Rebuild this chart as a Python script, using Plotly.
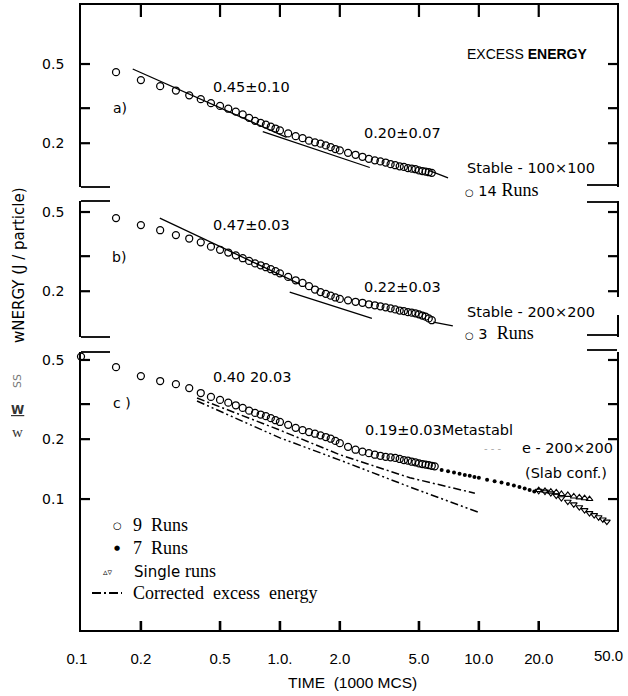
import math
import plotly.graph_objects as go

# ---------------- data ----------------
t_ab = [0.15, 0.2, 0.25, 0.3, 0.35, 0.4, 0.45, 0.5, 0.55, 0.6, 0.65, 0.7, 0.75, 0.8, 0.85,
        0.9, 0.95, 1.0, 1.1, 1.2, 1.3, 1.4, 1.5, 1.6, 1.7, 1.8, 1.9, 2.0, 2.2, 2.4, 2.6,
        2.8, 3.0, 3.2, 3.4, 3.6, 3.8, 4.0, 4.2, 4.4, 4.6, 4.8, 5.0, 5.2, 5.4, 5.6, 5.8]
e_a = [0.455, 0.415, 0.387, 0.368, 0.348, 0.333, 0.318, 0.308, 0.298, 0.288, 0.279, 0.268,
       0.259, 0.253, 0.248, 0.242, 0.237, 0.232, 0.224, 0.217, 0.212, 0.206, 0.202, 0.199,
       0.195, 0.191, 0.187, 0.184, 0.179, 0.175, 0.171, 0.167, 0.164, 0.162, 0.160, 0.157,
       0.155, 0.153, 0.152, 0.150, 0.149, 0.148, 0.146, 0.145, 0.144, 0.143, 0.142]
e_b = [0.466, 0.43, 0.405, 0.383, 0.368, 0.352, 0.335, 0.323, 0.313, 0.303, 0.293, 0.284,
       0.276, 0.270, 0.264, 0.258, 0.252, 0.246, 0.236, 0.227, 0.220, 0.212, 0.204, 0.198,
       0.194, 0.190, 0.186, 0.183, 0.180, 0.177, 0.175, 0.172, 0.170, 0.168, 0.166, 0.164,
       0.162, 0.160, 0.159, 0.157, 0.156, 0.155, 0.153, 0.151, 0.149, 0.146, 0.143]
t_c = [0.1, 0.15, 0.2, 0.25, 0.3, 0.35, 0.4, 0.45, 0.5, 0.55, 0.6, 0.65, 0.7, 0.75, 0.8, 0.85,
       0.9, 0.95, 1.0, 1.1, 1.2, 1.3, 1.4, 1.5, 1.6, 1.7, 1.8, 1.9, 2.0, 2.2, 2.4, 2.6,
       2.8, 3.0, 3.2, 3.4, 3.6, 3.8, 4.0, 4.2, 4.4, 4.6, 4.8, 5.0, 5.2, 5.4, 5.6, 5.8, 6.0]
e_c = [0.52, 0.46, 0.415, 0.392, 0.378, 0.361, 0.341, 0.326, 0.315, 0.305, 0.296, 0.287,
       0.278, 0.271, 0.266, 0.261, 0.255, 0.249, 0.244, 0.236, 0.228, 0.222, 0.217, 0.213,
       0.209, 0.205, 0.201, 0.196, 0.191, 0.183, 0.177, 0.173, 0.170, 0.167, 0.165, 0.163,
       0.162, 0.161, 0.159, 0.157, 0.156, 0.154, 0.153, 0.151, 0.150, 0.149, 0.148, 0.147, 0.146]
t_7 = [6.5, 7, 7.5, 8, 8.5, 9, 9.5, 10, 11, 12, 13, 14, 15, 16, 17, 18, 19]
e_7 = [0.140, 0.138, 0.136, 0.134, 0.132, 0.131, 0.129, 0.128, 0.125, 0.123, 0.121, 0.119,
       0.117, 0.115, 0.113, 0.111, 0.109]
t_up = [20, 21.5, 23, 24.5, 26, 28, 30, 32, 34, 36]
e_up = [0.111, 0.110, 0.109, 0.108, 0.106, 0.105, 0.103, 0.102, 0.101, 0.100]
t_dn = [20, 21.5, 23, 24.5, 26, 28, 30, 32, 34, 36, 38, 40, 42, 44]
e_dn = [0.110, 0.109, 0.107, 0.104, 0.101, 0.097, 0.094, 0.091, 0.088, 0.085, 0.083,
        0.081, 0.079, 0.077]

fit_a1_t, fit_a1_e = [0.182, 1.08], [0.472, 0.214]
fit_a2_t, fit_a2_e = [0.82, 2.83], [0.229, 0.151]
fit_a3_t, fit_a3_e = [5.6, 7.0], [0.146, 0.134]
fit_b1_t, fit_b1_e = [0.249, 1.26], [0.466, 0.217]
fit_b2_t, fit_b2_e = [1.12, 2.9], [0.198, 0.146]
fit_b3_t, fit_b3_e = [5.9, 7.4], [0.140, 0.134]
corr1_t, corr1_e = [0.383, 1.0, 2.0, 4.5, 9.55], [0.322, 0.222, 0.167, 0.128, 0.107]
corr2_t, corr2_e = [0.383, 1.0, 2.0, 4.5, 9.9], [0.311, 0.203, 0.157, 0.115, 0.086]

x_tickvals = [0.1, 0.2, 0.5, 1, 2, 5, 10, 20]
x_ticktext = ['0.1&nbsp;&nbsp;', '0.2', '0.5', '1.0.', '2.0', '5.0', '10.0', '20.0']
x_last_label = '50.0'
x_minor_ticks = [0.2, 0.5, 1, 2, 5, 10, 20]
y_ticks_ab = [0.5, 0.3, 0.2]
y_ticktext_ab = ['0.5', '', '0.2']
y_ticks_c = [0.5, 0.3, 0.2, 0.1]
y_ticktext_c = ['0.5', '', '0.2', '0.1']

# ---------------- layout helpers ----------------
W, H = 628, 696
L, R, T, B = 81, 11, 5, 66
PW, PH = W - L - R, H - T - B      # plot area 81..617 px wide


def px(x):
    return (x - L) / PW


def py(y):
    return (H - B - y) / PH


SANS = 'DejaVu Sans'
SERIF = 'Liberation Serif'
HELV = 'Liberation Sans'

xr = [-1, math.log10(50) - 0.0045]
yr_a = [-0.919, -0.0045]
yr_b = [-0.929, -0.2457]
yr_c = [-1.658, -0.261]
dom_a = [py(187), py(5)]
dom_b = [py(337), py(201)]
dom_c = [py(630), py(352)]
DEC = PW / (xr[1] - xr[0])   # pixels per decade

fig = go.Figure()

circ = dict(symbol='circle-open', size=7, color='black', line=dict(width=1.25, color='black'))
lin = dict(color='black', width=1.3)


def add(x, y, xa, ya, **kw):
    fig.add_trace(go.Scatter(x=x, y=y, xaxis=xa, yaxis=ya, cliponaxis=False,
                             hoverinfo='skip', **kw))


# panel a
add(t_ab, e_a, 'x', 'y', mode='markers', marker=circ)
for tt, ee in [(fit_a1_t, fit_a1_e), (fit_a2_t, fit_a2_e), (fit_a3_t, fit_a3_e)]:
    add(tt, ee, 'x', 'y', mode='lines', line=lin)
# panel b
add(t_ab, e_b, 'x2', 'y2', mode='markers', marker=circ)
for tt, ee in [(fit_b1_t, fit_b1_e), (fit_b2_t, fit_b2_e), (fit_b3_t, fit_b3_e)]:
    add(tt, ee, 'x2', 'y2', mode='lines', line=lin)
# panel c
add(t_c, e_c, 'x3', 'y3', mode='markers', marker=circ)
add(t_7, e_7, 'x3', 'y3', mode='markers',
    marker=dict(symbol='circle', size=4, color='black'))
add(t_up, e_up, 'x3', 'y3', mode='markers',
    marker=dict(symbol='triangle-up-open', size=6, color='black', line=dict(width=1.1)))
add(t_dn, e_dn, 'x3', 'y3', mode='markers',
    marker=dict(symbol='triangle-down-open', size=6, color='black', line=dict(width=1.1)))
add(corr1_t, corr1_e, 'x3', 'y3', mode='lines',
    line=dict(color='black', width=1.5, dash='8px,3px,2px,3px'))
add(corr2_t, corr2_e, 'x3', 'y3', mode='lines',
    line=dict(color='black', width=1.5, dash='8px,3px,2px,3px,2px,3px'))

# ---------------- tick marks: one short two-point line per tick ----------------
x_left = 10 ** xr[0]
x_right = 10 ** xr[1]
step9 = 10 ** (9 / DEC)
step12 = 10 ** (12 / DEC)
TK = dict(color='black', width=2.2)


def ticks_for(xa, ya, yr, yvals, top=False, bottom=False):
    for v in yvals:
        add([x_left, x_left * step9], [v, v], xa, ya, mode='lines', line=TK)
        add([x_right, x_right / step9], [v, v], xa, ya, mode='lines', line=TK)
    lo, hi = 10 ** yr[0], 10 ** yr[1]
    for t in x_minor_ticks:
        if top:
            add([t, t], [hi, hi / step12], xa, ya, mode='lines', line=TK)
        if bottom:
            add([t, t], [lo, lo * step9], xa, ya, mode='lines',
                line=dict(color='black', width=2.6))


ticks_for('x', 'y', yr_a, y_ticks_ab, top=True)
ticks_for('x2', 'y2', yr_b, y_ticks_ab)
ticks_for('x3', 'y3', yr_c, y_ticks_c, bottom=True)

# placeholder traces so the right-hand frame axes are drawn
for ya in ['y4', 'y5', 'y6']:
    fig.add_trace(go.Scatter(x=[None], y=[None], xaxis={'y4': 'x', 'y5': 'x2', 'y6': 'x3'}[ya],
                             yaxis=ya, mode='markers', hoverinfo='skip'))

common_x = dict(type='log', range=xr, showgrid=False, zeroline=False, domain=[0, 1],
                automargin=False)
axline = dict(showline=True, linecolor='black', linewidth=1.8)
common_y = dict(type='log', showgrid=False, zeroline=False, ticks='', automargin=False,
                tickfont=dict(family=SANS, size=14, color='black'), ticklabelstandoff=12,
                **axline)
right_y = dict(type='log', showgrid=False, zeroline=False, ticks='', automargin=False,
               showticklabels=False, side='right', **axline)

fig.update_layout(
    template='none',
    width=W, height=H, margin=dict(l=L, r=R, t=T, b=B),
    plot_bgcolor='rgba(0,0,0,0)', paper_bgcolor='white', showlegend=False,
    xaxis=dict(**common_x, anchor='y', side='top', **axline, ticks='', showticklabels=False),
    xaxis2=dict(**common_x, anchor='y2', visible=False),
    xaxis3=dict(**common_x, anchor='y3', **axline, ticks='', tickvals=x_tickvals,
                ticktext=x_ticktext, ticklabeloverflow='allow',
                tickfont=dict(family='Liberation Sans', size=15, color='black'),
                ticklabelstandoff=14),
    yaxis=dict(**common_y, anchor='x', domain=dom_a, range=yr_a,
               tickvals=y_ticks_ab, ticktext=y_ticktext_ab),
    yaxis2=dict(**common_y, anchor='x2', domain=dom_b, range=yr_b,
                tickvals=y_ticks_ab, ticktext=y_ticktext_ab),
    yaxis3=dict(**common_y, anchor='x3', domain=dom_c, range=yr_c,
                tickvals=y_ticks_c, ticktext=y_ticktext_c),
    yaxis4=dict(**right_y, anchor='x', overlaying='y', range=yr_a),
    yaxis5=dict(**right_y, anchor='x2', overlaying='y2', range=yr_b),
    yaxis6=dict(**right_y, anchor='x3', overlaying='y3', range=yr_c),
)

# ---------------- frame pieces (decoration) ----------------
shapes = []
BLK = dict(color='black', width=1.8)
RIGHT_PX = L + PW


def seg(x0, y0, x1, y1, **kw):
    d = dict(type='line', xref='paper', yref='paper', x0=px(x0), y0=py(y0), x1=px(x1),
             y1=py(y1), line=BLK)
    d.update(kw)
    shapes.append(d)


# stubs
seg(81, 187, 110, 187)
seg(587, 185, RIGHT_PX, 185)
seg(81, 201, 110, 201)
seg(587, 202, RIGHT_PX, 202)
seg(81, 337, 110, 337)
seg(587, 335, RIGHT_PX, 335)
seg(81, 352, 110, 352)
seg(587, 350, RIGHT_PX, 350)
# gap in the right frame of panel b
shapes.append(dict(type='rect', xref='paper', yref='paper', x0=px(RIGHT_PX - 4),
                   x1=px(RIGHT_PX + 4), y0=py(315), y1=py(297), fillcolor='white',
                   line=dict(width=0), layer='above'))
# legend dash-dot sample
seg(92, 593, 122, 593, line=dict(color='black', width=1.8, dash='9px,3px,2px,3px'))
fig.update_layout(shapes=shapes)

anns = []


def ann(text, x, y, size=14, family=SANS, xanchor='left', angle=0, color='black'):
    anns.append(dict(text=text, x=px(x), y=py(y), xref='paper', yref='paper',
                     xanchor=xanchor, yanchor='middle', showarrow=False, textangle=angle,
                     font=dict(family=family, size=size, color=color)))


def serif(s, size=18):
    return f'<span style="font-family:{SERIF};font-size:{size}px">{s}</span>'


ann('EXCESS <b>ENERGY</b>', 465, 54, 14, HELV)
ann('0.45±0.10', 211, 87, 14.5)
ann('a)', 111, 108, 14)
ann('0.20±0.07', 362, 133, 14.5)
ann('Stable - 100×100', 465, 168, 14.5)
ann('<span style="font-size:10px">○</span> 14 ' + serif('Runs'), 463, 190, 14.5)
ann('0.47±0.03', 211, 225, 14.5)
ann('b)', 110, 257, 14)
ann('0.22±0.03', 362, 287, 14.5)
ann('Stable - 200×200', 465, 312, 14.5)
ann('<span style="font-size:10px">○</span> 3  ' + serif('Runs'), 463, 333, 14.5)
ann('0.40 20.03', 211, 377, 14.5)
ann('c )', 111, 403, 14)
ann('0.19±0.03Metastabl', 363, 430, 14.5)
ann('- - -', 482, 449, 10, color='#aaaaaa')
ann('e - 200×200', 520, 448, 14.5)
ann('(Slab conf.)', 523, 473, 14.5)
# last x tick label, kept inside the page like the scan
ann(x_last_label, 625, 655, 15, 'Liberation Sans', xanchor='right')
# legend in panel c
ann('○', 117, 525, 10, xanchor='center')
ann(serif('9&nbsp;&nbsp;Runs'), 131, 525, 18, SERIF)
ann('●', 117, 548, 7, xanchor='center')
ann(serif('7&nbsp;&nbsp;Runs'), 131, 548, 18, SERIF)
ann('▵▿', 101, 572, 9)
ann('Single ' + serif('runs'), 132, 571, 15)
ann(serif('Corrected&nbsp;&nbsp;excess&nbsp;&nbsp;energy', 18), 131, 593, 18, SERIF)
# axis titles
ann('TIME&nbsp;&nbsp;(1000 MCS)', 352, 682, 15.5, 'Liberation Sans', xanchor='center')
ann('wNERGY (J / particle)', 19, 265, 15, angle=-90, xanchor='center')
ann('SS', 17, 381, 11, angle=-90, xanchor='center', color='#777777')
ann('<b><u>W</u></b>', 17, 410, 12, 'DejaVu Sans', xanchor='center', color='#333333')
ann('w', 17, 432, 15, SERIF, xanchor='center', color='#333333')
fig.update_layout(annotations=anns)

fig.write_html('out.html', config={'displayModeBar': False},
               post_script="document.body.style.margin='0';document.body.style.padding='0';")
